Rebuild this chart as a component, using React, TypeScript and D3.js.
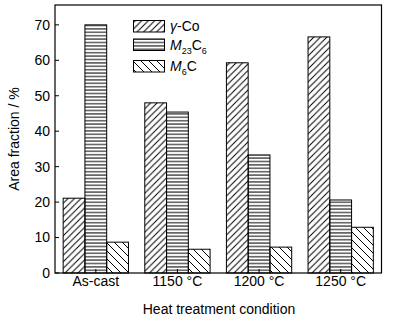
import React from "react";
import * as d3 from "d3";

const categories = ["As-cast", "1150 °C", "1200 °C", "1250 °C"];
const seriesNames = ["γ-Co", "M23C6", "M6C"];
const gammaCo = [21.1, 48.0, 59.3, 66.6];
const m23c6 = [70.0, 45.4, 33.3, 20.6];
const m6c = [8.7, 6.7, 7.3, 12.9];
const yTicks = [0, 10, 20, 30, 40, 50, 60, 70];

const W = 397, H = 328;
const L = 55, R = 381.5, T = 5, B = 273;
const font = "Liberation Sans, Arial, sans-serif";
const fs = 14;

export default function App() {
  const series = [gammaCo, m23c6, m6c];
  const patIds = ["pGamma", "pM23", "pM6"];
  const x = d3.scaleBand<string>().domain(categories).range([L, R]).paddingInner(0.2).paddingOuter(0.1);
  const xs = d3.scaleBand<string>().domain(seriesNames).range([0, x.bandwidth()]);
  const y = d3.scaleLinear().domain([0, 75.6]).range([B, T]);
  return (
    <svg width={W} height={H} style={{ position: "absolute", left: 0, top: 0, background: "#fff" }}>
      <defs>
        <pattern id="pGamma" patternUnits="userSpaceOnUse" width={6.5} height={6.5}>
          <path d="M0,6.5 L6.5,0 M-1,1 L1,-1 M5.5,7.5 L7.5,5.5" stroke="#000" strokeWidth={1} />
        </pattern>
        <pattern id="pM23" patternUnits="userSpaceOnUse" width={6} height={3.4}>
          <path d="M0,1.7 L6,1.7" stroke="#000" strokeWidth={1} />
        </pattern>
        <pattern id="pM6" patternUnits="userSpaceOnUse" width={8} height={8}>
          <path d="M0,0 L8,8 M-1,7 L1,9 M7,-1 L9,1" stroke="#000" strokeWidth={1} />
        </pattern>
      </defs>
      <rect x={0} y={0} width={W} height={H} fill="#fff" />
      {categories.map((c, i) =>
        series.map((s, j) => (
          <rect
            key={c + j}
            x={(x(c) as number) + (xs(seriesNames[j]) as number)}
            y={y(s[i])}
            width={xs.bandwidth()}
            height={B - y(s[i])}
            fill={`url(#${patIds[j]})`}
            stroke="#000"
            strokeWidth={1}
          />
        ))
      )}
      <rect x={L} y={T} width={R - L} height={B - T} fill="none" stroke="#000" strokeWidth={1.2} />
      {yTicks.map((t) => (
        <g key={t}>
          <line x1={L} x2={L + 4} y1={y(t)} y2={y(t)} stroke="#000" />
          <text x={L - 5} y={y(t)} dy="0.35em" textAnchor="end" fontFamily={font} fontSize={fs}>
            {t}
          </text>
        </g>
      ))}
      {categories.map((c) => (
        <g key={c}>
          <line x1={(x(c) as number) + x.bandwidth() / 2} x2={(x(c) as number) + x.bandwidth() / 2} y1={B} y2={B - 4} stroke="#000" />
          <text x={(x(c) as number) + x.bandwidth() / 2} y={286} textAnchor="middle" fontFamily={font} fontSize={fs}>
            {c}
          </text>
        </g>
      ))}
      <text x={219} y={314} textAnchor="middle" fontFamily={font} fontSize={fs}>
        Heat treatment condition
      </text>
      <text transform={`translate(19,${(T + B) / 2}) rotate(-90)`} textAnchor="middle" fontFamily={font} fontSize={fs}>
        Area fraction / %
      </text>
      {seriesNames.map((n, j) => {
        const ly = [20.5, 39, 60.5][j];
        return (
          <g key={n}>
            <rect x={133.5} y={ly} width={31} height={11.5} fill={`url(#${patIds[j]})`} stroke="#000" />
            <text x={170} y={ly + 10.5} fontFamily={font} fontSize={fs}>
              {j === 0 && (
                <>
                  <tspan fontStyle="italic">γ</tspan>
                  <tspan>-Co</tspan>
                </>
              )}
              {j === 1 && (
                <>
                  <tspan fontStyle="italic">M</tspan>
                  <tspan fontSize={9} dy={4}>23</tspan>
                  <tspan dy={-4}>C</tspan>
                  <tspan fontSize={9} dy={4}>6</tspan>
                </>
              )}
              {j === 2 && (
                <>
                  <tspan fontStyle="italic">M</tspan>
                  <tspan fontSize={9} dy={4}>6</tspan>
                  <tspan dy={-4}>C</tspan>
                </>
              )}
            </text>
          </g>
        );
      })}
    </svg>
  );
}
